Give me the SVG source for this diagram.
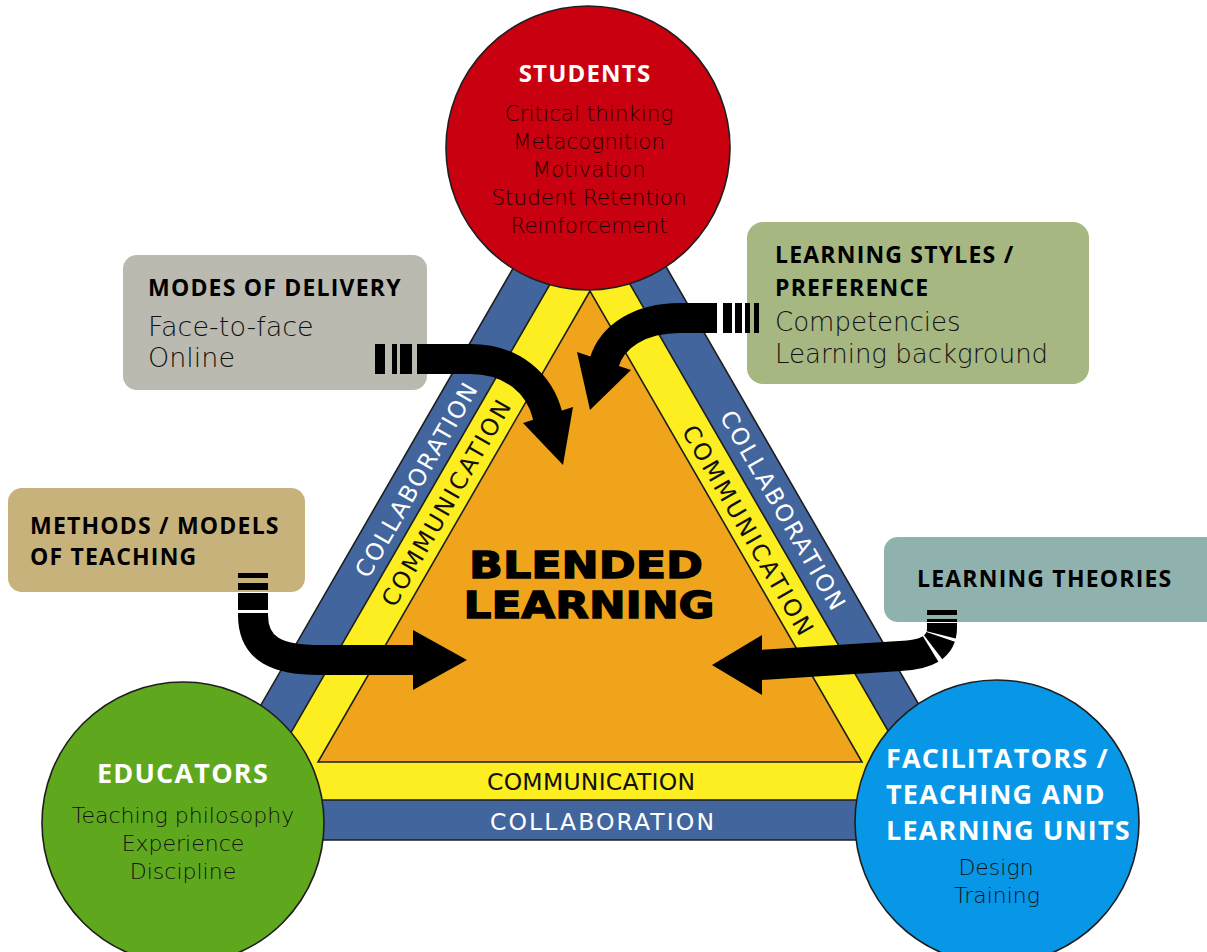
<svg xmlns="http://www.w3.org/2000/svg" width="1207" height="952" viewBox="0 0 1207 952">
<defs>
<style>
.tri{stroke:#1e1e1e;stroke-width:1.6;stroke-linejoin:miter}
.circ{stroke:#1e1e1e;stroke-width:1.6}
.box{stroke:none}
.ttl{font-family:"Open Sans","DejaVu Sans",sans-serif;font-weight:700;letter-spacing:1.2px}
.body{font-family:"DejaVu Sans","Liberation Sans",sans-serif;font-weight:300}
.band{font-family:"DejaVu Sans","Liberation Sans",sans-serif;font-size:23.5px}
.big{font-family:"DejaVu Sans","Liberation Sans",sans-serif;font-weight:700;font-size:37px;fill:#000;stroke:#000;stroke-width:1.3}
.shaft{fill:none;stroke:#000;stroke-width:30;stroke-linecap:butt;stroke-linejoin:round}
.head{fill:#000}
</style>
</defs>
<rect width="1207" height="952" fill="#ffffff"/>

<g id="triangle">
<polygon class="tri" points="590,135 183,840 997,840" fill="#41659c"/>
<polygon class="tri" points="590,215 252,800 928,800" fill="#fcee21"/>
<polygon class="tri" points="590,291 318,762 862,762" fill="#efa41b"/>
<text class="band" x="591" y="790" text-anchor="middle" textLength="208" lengthAdjust="spacing" fill="#111">COMMUNICATION</text>
<text class="band" x="602" y="830" text-anchor="middle" textLength="224" lengthAdjust="spacing" fill="#fff">COLLABORATION</text>
<text class="band" transform="translate(416,480) rotate(-60)" x="0" y="8.5" text-anchor="middle" textLength="220" lengthAdjust="spacing" fill="#fff">COLLABORATION</text>
<text class="band" transform="translate(446,503) rotate(-60)" x="0" y="8.5" text-anchor="middle" textLength="234" lengthAdjust="spacing" fill="#111">COMMUNICATION</text>
<text class="band" transform="translate(783,510) rotate(60)" x="0" y="8.5" text-anchor="middle" textLength="226" lengthAdjust="spacing" fill="#fff">COLLABORATION</text>
<text class="band" transform="translate(748,530) rotate(60)" x="0" y="8.5" text-anchor="middle" textLength="238" lengthAdjust="spacing" fill="#111">COMMUNICATION</text>
</g>

<g id="blended">
<text class="big" x="586" y="578" text-anchor="middle" textLength="234" lengthAdjust="spacingAndGlyphs">BLENDED</text>
<text class="big" x="589" y="618" text-anchor="middle" textLength="251" lengthAdjust="spacingAndGlyphs">LEARNING</text>
</g>

<g id="students">
<circle class="circ" cx="588" cy="148" r="142" fill="#c9000f"/>
<text class="ttl" x="585" y="82" text-anchor="middle" font-size="24" fill="#fff">STUDENTS</text>
<g class="body" font-size="21.5" fill="#1c0000" text-anchor="middle">
<text x="589" y="121">Critical thinking</text>
<text x="589" y="149">Metacognition</text>
<text x="589" y="177">Motivation</text>
<text x="589" y="205">Student Retention</text>
<text x="589" y="233">Reinforcement</text>
</g>
</g>

<g id="educators">
<circle class="circ" cx="183" cy="823" r="141" fill="#5fa81e"/>
<text class="ttl" x="183" y="783" text-anchor="middle" font-size="27" fill="#fff">EDUCATORS</text>
<g class="body" font-size="22" fill="#111" text-anchor="middle">
<text x="183" y="823">Teaching philosophy</text>
<text x="183" y="851">Experience</text>
<text x="183" y="879">Discipline</text>
</g>
</g>

<g id="facilitators">
<circle class="circ" cx="997" cy="822" r="142" fill="#0797e6"/>
<g class="ttl" font-size="27" fill="#fff">
<text x="886" y="768">FACILITATORS /</text>
<text x="886" y="804">TEACHING AND</text>
<text x="886" y="840">LEARNING UNITS</text>
</g>
<g class="body" font-size="22" fill="#111" text-anchor="middle">
<text x="996" y="875">Design</text>
<text x="997" y="903">Training</text>
</g>
</g>

<g id="modes-of-delivery">
<rect class="box" x="123" y="255" width="304" height="135" rx="14" fill="#bbbab0"/>
<text class="ttl" x="148" y="296" font-size="23" fill="#000">MODES OF DELIVERY</text>
<g class="body" font-size="27" fill="#111">
<text x="148" y="336">Face-to-face</text>
<text x="148" y="367">Online</text>
</g>
</g>

<g id="learning-styles">
<rect class="box" x="747" y="222" width="342" height="162" rx="16" fill="#a6b782"/>
<g class="ttl" font-size="23" fill="#000">
<text x="775" y="263">LEARNING STYLES /</text>
<text x="775" y="296">PREFERENCE</text>
</g>
<g class="body" font-size="26" fill="#111">
<text x="775" y="331">Competencies</text>
<text x="775" y="363">Learning background</text>
</g>
</g>

<g id="methods">
<rect class="box" x="8" y="488" width="297" height="104" rx="14" fill="#c8b27c"/>
<g class="ttl" font-size="23" fill="#000">
<text x="30" y="534">METHODS / MODELS</text>
<text x="30" y="565">OF TEACHING</text>
</g>
</g>

<g id="learning-theories">
<rect class="box" x="884" y="537" width="340" height="85" rx="14" fill="#8fb2ae"/>
<text class="ttl" x="917" y="587" font-size="23" fill="#000">LEARNING THEORIES</text>
</g>

<g id="connectors">
<path class="shaft" d="M375,359 L470,359 C512,359 540,383 548,417" stroke-dasharray="10 7 5 3 12 5 2000"/>
<polygon class="head" points="523,423 573,407 563,465"/>
<path class="shaft" d="M759,318 L680,318 C640,318 612,336 604,363" stroke-dasharray="5 4 5 3 7 3 9 6 2000"/>
<polygon class="head" points="577,352 631,370 590,410"/>
<path class="shaft" d="M253,573 L253,615 C253,650 278,660 320,660 L416,660" stroke-dasharray="5 5 7 3 17 3 2000"/>
<polygon class="head" points="413,630 413,690 467,660"/>
<path class="shaft" d="M942,610 L942,628 C942,648 925,655 900,656 L760,665" stroke-dasharray="5 4 3 1 12 2 13 3 2000"/>
<polygon class="head" points="762,635 762,695 712,665"/>
</g>
</svg>
